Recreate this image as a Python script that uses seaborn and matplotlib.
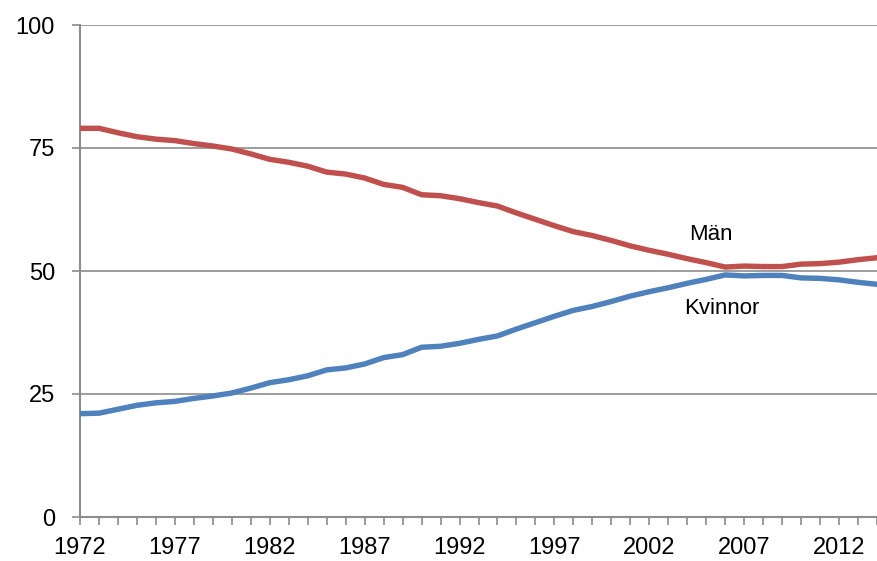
#!/usr/bin/env python3
import matplotlib
matplotlib.use('Agg')
import pandas as pd
import seaborn as sns
from matplotlib import pyplot as plt

years = list(range(1972, 2015))

man = [79.0, 79.0, 78.1, 77.3, 76.8, 76.5, 75.9, 75.4, 74.8, 73.8,
       72.7, 72.1, 71.3, 70.1, 69.7, 68.9, 67.6, 67.0, 65.5, 65.3,
       64.7, 63.9, 63.2, 61.8, 60.5, 59.2, 58.0, 57.2, 56.2, 55.1,
       54.2, 53.4, 52.5, 51.7, 50.8, 51.0, 50.9, 50.9, 51.4, 51.5,
       51.8, 52.3, 52.7]

kvinnor = [21.0, 21.1, 21.9, 22.7, 23.2, 23.5, 24.1, 24.6, 25.2, 26.2,
           27.3, 27.9, 28.7, 29.9, 30.3, 31.1, 32.4, 33.0, 34.5, 34.7,
           35.3, 36.1, 36.8, 38.2, 39.5, 40.8, 42.0, 42.8, 43.8, 44.9,
           45.8, 46.6, 47.5, 48.3, 49.2, 49.0, 49.1, 49.1, 48.6, 48.5,
           48.2, 47.7, 47.3]

series_names = ['Män', 'Kvinnor']
colors = ['#C0504D', '#4F81BD']
xtick_years = [1972, 1977, 1982, 1987, 1992, 1997, 2002, 2007, 2012]
ytick_vals = [0, 25, 50, 75, 100]


def build_df() -> pd.DataFrame:
    df = pd.DataFrame({'year': years, 'Män': man, 'Kvinnor': kvinnor})
    return df.melt(['year'], var_name='kon', value_name='andel')


def plot(df: pd.DataFrame):
    sns.set_style('white')
    plt.rcParams['font.family'] = ['Liberation Sans', 'DejaVu Sans']
    plt.rcParams['text.color'] = 'black'

    W, H = 877, 561
    fig = plt.figure(figsize=(W / 100, H / 100), dpi=100)
    ax = fig.add_axes([80 / W, 1 - 517 / H, 1 - 80 / W, (517 - 25) / H])

    sns.lineplot(data=df, x='year', y='andel', hue='kon',
                 hue_order=series_names, palette=colors,
                 linewidth=3.9, legend=False, ax=ax, zorder=3)

    ax.set_xlim(1972, 2013.73)
    ax.set_ylim(0, 100)
    ax.set_xticks(xtick_years)
    ax.set_xticks(years, minor=True)
    ax.set_yticks(ytick_vals)
    ax.set(xlabel='', ylabel='')

    grey = '#8C8C8C'
    ax.grid(visible=True, axis='y', color=grey, linewidth=1.2, zorder=1)
    for s in ('top', 'right'):
        ax.spines[s].set_visible(False)
    for s in ('left', 'bottom'):
        ax.spines[s].set_color(grey)
        ax.spines[s].set_linewidth(1.5)
        ax.spines[s].set_zorder(2)

    ax.tick_params(axis='x', which='both', direction='out', length=5.5,
                   width=1.2, color=grey, bottom=True, pad=9,
                   labelsize=17, labelcolor='black')
    ax.tick_params(axis='y', direction='out', length=6, width=1.2,
                   color=grey, left=True, pad=12, labelsize=17,
                   labelcolor='black')

    # labels next to the lines, placed in figure pixels
    fig.text(711 / W, 1 - 234 / H, 'Män', fontsize=16,
             ha='center', va='center')
    fig.text(722 / W, 1 - 309 / H, 'Kvinnor', fontsize=16,
             ha='center', va='center')

    plt.savefig('out.png', dpi=100)


if __name__ == '__main__':
    plot(build_df())
